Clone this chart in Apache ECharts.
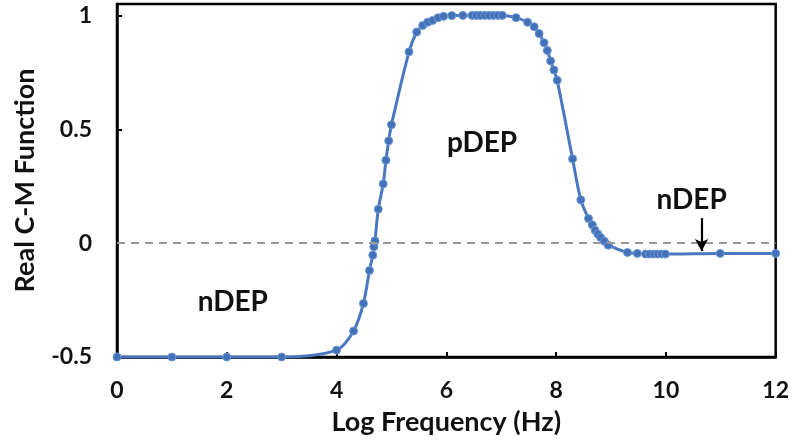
<!DOCTYPE html>
<html>
<head>
<meta charset="utf-8">
<script src="https://cdn.jsdelivr.net/npm/echarts@6/dist/echarts.min.js"></script>
<style>html,body{margin:0;padding:0;background:#fff}#chart{width:792px;height:444px}</style>
</head>
<body>
<div id="chart"></div>
<script>
// Log frequency (x) and real part of Clausius-Mossotti function (y)
const logFreq = [0, 1, 2, 3, 4.0, 4.31, 4.49, 4.6, 4.66, 4.68, 4.70, 4.76, 4.85, 4.90, 4.95, 5.0,
  5.32, 5.46, 5.57, 5.66, 5.75, 5.85, 5.95, 6.1, 6.3, 6.47, 6.55, 6.62, 6.7, 6.78, 6.86, 6.94, 7.02,
  7.27, 7.48, 7.6, 7.69, 7.78, 7.84, 7.90, 7.96, 8.02, 8.30, 8.45, 8.59, 8.66, 8.71, 8.76, 8.81, 8.88, 8.95,
  9.30, 9.48, 9.63, 9.7, 9.78, 9.85, 9.92, 9.99, 10.99, 12];
const realCM = [-0.5, -0.5, -0.5, -0.5, -0.47, -0.386, -0.265, -0.12, -0.053, -0.016, 0.01, 0.149, 0.26, 0.364, 0.449, 0.52,
  0.84, 0.927, 0.956, 0.97, 0.978, 0.99, 0.996, 0.999, 1.0, 1.0, 1.0, 1.0, 1.0, 1.0, 1.0, 1.0, 1.0,
  0.99, 0.97, 0.95, 0.92, 0.88, 0.846, 0.80, 0.76, 0.715, 0.37, 0.19, 0.108, 0.08, 0.057, 0.04, 0.025, 0.008, -0.009,
  -0.041, -0.045, -0.048, -0.048, -0.048, -0.048, -0.048, -0.048, -0.045, -0.045];
const xTicks = [0, 2, 4, 6, 8, 10, 12];
const yTicks = [-0.5, 0, 0.5, 1];
const annotations = [
  { text: 'nDEP', x: 2.11, y: -0.26 },
  { text: 'pDEP', x: 6.65, y: 0.44 },
  { text: 'nDEP', x: 10.47, y: 0.19 }
];
const arrowX = 10.65, arrowTop = 0.11, arrowBottom = -0.035;

const FONT = 'Lato';
const points = logFreq.map((x, i) => [x, realCM[i]]);

const chart = echarts.init(document.getElementById('chart'), null, { renderer: 'canvas' });
chart.setOption({
  animation: false,
  backgroundColor: '#fff',
  grid: { left: 117, right: 15, top: 4, bottom: 87, show: true, borderColor: '#000', borderWidth: 2.5 },
  xAxis: {
    type: 'value', min: xTicks[0], max: xTicks[xTicks.length - 1], interval: 2,
    name: 'Log Frequency (Hz)', nameLocation: 'middle', nameGap: 52,
    nameTextStyle: { fontFamily: FONT, fontWeight: 'bold', fontSize: 27, color: '#111' },
    axisLine: { onZero: false, lineStyle: { color: '#000', width: 2.5 } },
    axisTick: { inside: true, length: 5, lineStyle: { color: '#000', width: 2 } },
    axisLabel: { margin: 22, fontFamily: FONT, fontWeight: 'bold', fontSize: 23, color: '#111' },
    splitLine: { show: false }
  },
  yAxis: {
    type: 'value', min: yTicks[0], max: 1.05, interval: 0.5,
    name: 'Real C-M Function', nameLocation: 'middle', nameGap: 78, nameRotate: 90,
    nameTextStyle: { fontFamily: FONT, fontWeight: 'bold', fontSize: 27, color: '#111' },
    axisLine: { onZero: false, lineStyle: { color: '#000', width: 2.5 } },
    axisTick: { inside: true, length: 5, lineStyle: { color: '#000', width: 2 } },
    axisLabel: {
      margin: 25, fontFamily: FONT, fontWeight: 'bold', fontSize: 23, color: '#111',
      formatter: v => yTicks.some(t => Math.abs(t - v) < 1e-9) ? String(v) : ''
    },
    splitLine: { show: false }
  },
  series: [{
    type: 'line',
    data: points,
    smooth: 0.3,
    symbol: 'circle',
    symbolSize: 8,
    lineStyle: { color: '#4a78c0', width: 3 },
    itemStyle: { color: '#4470b8', borderColor: '#6a9ad8', borderWidth: 1 },
    z: 3,
    markLine: {
      silent: true,
      symbol: 'none',
      label: { show: false },
      data: [
        { yAxis: 0, lineStyle: { color: '#999', type: [8, 6], width: 1.8 } },
        [
          { coord: [arrowX, arrowTop], symbol: 'none' },
          { coord: [arrowX, arrowBottom], symbol: 'arrow', symbolSize: [10, 12] }
        ]
      ],
      lineStyle: { color: '#000', width: 2.2, type: 'solid' }
    },
    markPoint: {
      silent: true,
      symbol: 'circle',
      symbolSize: 0,
      label: {
        show: true, position: 'inside',
        fontFamily: FONT, fontWeight: 'bold', fontSize: 28, color: '#111',
        formatter: p => p.name
      },
      data: annotations.map(a => ({ name: a.text, coord: [a.x, a.y] }))
    }
  }]
});
</script>
</body>
</html>
